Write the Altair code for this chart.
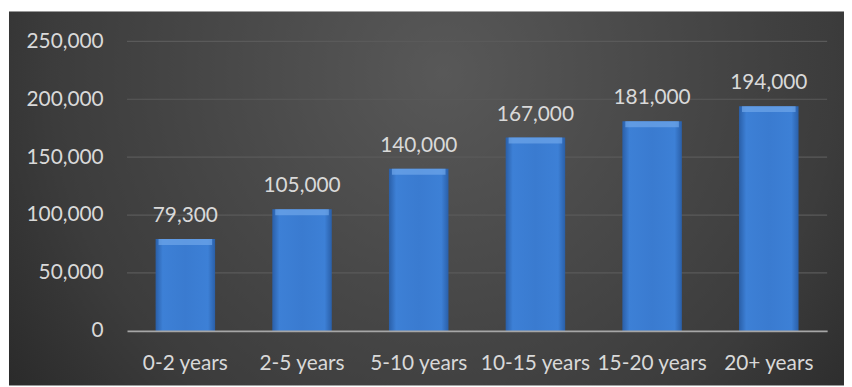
import altair as alt
import pandas as pd

categories = ["0-2 years", "2-5 years", "5-10 years", "10-15 years", "15-20 years", "20+ years"]
values = [79300, 105000, 140000, 167000, 181000, 194000]
y_ticks = [0, 50000, 100000, 150000, 200000, 250000]

df = pd.DataFrame({"cat": categories, "val": values})
grid_df = pd.DataFrame({"val": y_ticks[1:]})

W, H = 706, 292
PL, PT, PR, PB = 120, 32, 17, 55
FONT = "Lato"
FS = 21
TXT = "#d9d9d9"

xaxis = alt.Axis(labelAngle=0, labelFont=FONT, labelFontSize=FS, labelColor=TXT,
                 labelPadding=22, ticks=False, domainColor="#a6a6a6", domainWidth=2,
                 grid=False, zindex=2)
yaxis = alt.Axis(values=y_ticks, labelExpr="format(datum.value, ',')", labelFont=FONT,
                 labelFontSize=FS, labelColor=TXT, labelPadding=24, ticks=False, domain=False,
                 grid=False, zindex=2)
yscale = alt.Scale(domain=[0, 250000])
yenc = alt.Y("val:Q", title=None, scale=yscale, axis=yaxis)
xenc = alt.X("cat:N", sort=categories, title=None,
             scale=alt.Scale(paddingInner=0.49, paddingOuter=0.245), axis=xaxis)

bg = alt.Chart(pd.DataFrame({"a": [0]})).mark_rect(
    fill=alt.Gradient(gradient="radial",
                      stops=[alt.GradientStop(color="#585858", offset=0),
                             alt.GradientStop(color="#3c3c3c", offset=0.6),
                             alt.GradientStop(color="#1c1c1c", offset=1)],
                      x1=0.52, y1=0.35, r1=0, x2=0.52, y2=0.35, r2=0.78)
).encode(x=alt.value(-PL + 1), x2=alt.value(W + PR), y=alt.value(-PT + 2), y2=alt.value(H + PB))

grid = alt.Chart(grid_df).mark_rule(color="#5a5a5a", strokeWidth=1.2).encode(
    y=yenc, x=alt.value(0), x2=alt.value(W))

bars = alt.Chart(df).mark_bar(
    fill=alt.Gradient(gradient="linear",
                      stops=[alt.GradientStop(color="#2a5fa8", offset=0),
                             alt.GradientStop(color="#3d80d6", offset=0.12),
                             alt.GradientStop(color="#3a7bd0", offset=0.5),
                             alt.GradientStop(color="#3d80d6", offset=0.88),
                             alt.GradientStop(color="#2a5fa8", offset=1)],
                      x1=0, y1=0, x2=1, y2=0)
).encode(x=xenc, y=yenc)

caps = alt.Chart(df).mark_tick(color="#6fa7ea", thickness=6, yOffset=3, size=54).encode(
    x=xenc, y=yenc)

labels = alt.Chart(df).mark_text(baseline="bottom", dy=-13, font=FONT, fontSize=FS, color=TXT).encode(
    x=xenc, y=yenc, text=alt.Text("val:Q", format=","))

chart = alt.layer(bg, grid, bars, caps, labels).properties(
    width=W, height=H,
    padding={"left": PL, "top": PT, "right": PR, "bottom": PB},
    autosize=alt.AutoSizeParams(type="none"),
    background="white"
).configure_view(stroke=None)

chart.save("out.html", embed_options={"renderer": "svg", "actions": False})
